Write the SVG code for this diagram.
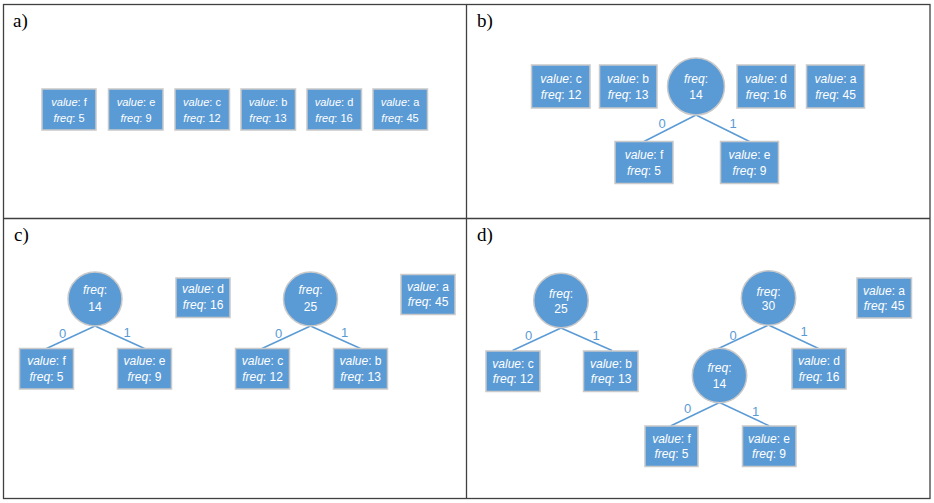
<svg xmlns="http://www.w3.org/2000/svg" width="934" height="503" viewBox="0 0 934 503">
<style>
.frame{fill:none;stroke:#404040;stroke-width:1.3}
.nd{fill:#5B9BD5;stroke:#c9c9c9;stroke-width:1.5}
.t{fill:#fff;font-family:"Liberation Sans",Arial,sans-serif;font-size:12px;text-anchor:middle}
.ta{font-size:11px}
.i{font-style:italic}
.pl{font-family:"Liberation Serif","Times New Roman",serif;font-size:19px;fill:#000}
.edge{stroke:#5B9BD5;stroke-width:1.5;fill:none}
.bit{fill:#5B9BD5;font-family:"Liberation Sans",Arial,sans-serif;font-size:13px;text-anchor:middle}
</style>
<rect x="0" y="0" width="934" height="503" fill="#fff"/>
<g id="frame">
<rect class="frame" x="3.5" y="4.5" width="926.5" height="494"/>
<line class="frame" x1="466.5" y1="4.5" x2="466.5" y2="498.5"/>
<line class="frame" x1="3.5" y1="218.5" x2="930" y2="218.5"/>
<text class="pl" x="13" y="27">a)</text>
<text class="pl" x="477" y="27">b)</text>
<text class="pl" x="14" y="241">c)</text>
<text class="pl" x="477" y="241">d)</text>
</g>
<g id="connectors">
<line class="edge" x1="696" y1="115" x2="644" y2="141.5"/>
<line class="edge" x1="696" y1="115" x2="749.5" y2="141.5"/>
<line class="edge" x1="95" y1="326" x2="46.5" y2="348.5"/>
<line class="edge" x1="95" y1="326" x2="144.5" y2="348.5"/>
<line class="edge" x1="310.5" y1="326" x2="262" y2="348.5"/>
<line class="edge" x1="310.5" y1="326" x2="360.5" y2="348.5"/>
<line class="edge" x1="561" y1="328" x2="512.5" y2="350.5"/>
<line class="edge" x1="561" y1="328" x2="612" y2="350.5"/>
<line class="edge" x1="768.5" y1="325" x2="718.5" y2="348.5"/>
<line class="edge" x1="768.5" y1="325" x2="818.5" y2="348.5"/>
<line class="edge" x1="719.5" y1="402.5" x2="670.5" y2="426"/>
<line class="edge" x1="719.5" y1="402.5" x2="769.5" y2="426"/>
<text class="bit" x="662" y="128">0</text>
<text class="bit" x="733" y="128">1</text>
<text class="bit" x="62.5" y="337.5">0</text>
<text class="bit" x="127" y="336.5">1</text>
<text class="bit" x="278.5" y="337.5">0</text>
<text class="bit" x="344.5" y="336.5">1</text>
<text class="bit" x="528.5" y="339.5">0</text>
<text class="bit" x="596" y="339.5">1</text>
<text class="bit" x="733" y="339.5">0</text>
<text class="bit" x="804" y="335.5">1</text>
<text class="bit" x="687.5" y="412.5">0</text>
<text class="bit" x="755.5" y="415.5">1</text>
</g>
<!-- panel a -->
<g id="a-f"><rect class="nd" x="42" y="89" width="54" height="41"/><text class="t ta" x="69" y="106"><tspan class="i">value</tspan>: f</text><text class="t ta" x="69" y="122"><tspan class="i">freq</tspan>: 5</text></g>
<g id="a-e"><rect class="nd" x="108.5" y="89" width="54.5" height="41"/><text class="t ta" x="136" y="106"><tspan class="i">value</tspan>: e</text><text class="t ta" x="136" y="122"><tspan class="i">freq</tspan>: 9</text></g>
<g id="a-c"><rect class="nd" x="175" y="89" width="54.5" height="41"/><text class="t ta" x="202" y="106"><tspan class="i">value</tspan>: c</text><text class="t ta" x="202" y="122"><tspan class="i">freq</tspan>: 12</text></g>
<g id="a-b"><rect class="nd" x="241" y="89" width="54.5" height="41"/><text class="t ta" x="268" y="106"><tspan class="i">value</tspan>: b</text><text class="t ta" x="268" y="122"><tspan class="i">freq</tspan>: 13</text></g>
<g id="a-d"><rect class="nd" x="307" y="89" width="54.5" height="41"/><text class="t ta" x="334" y="106"><tspan class="i">value</tspan>: d</text><text class="t ta" x="334" y="122"><tspan class="i">freq</tspan>: 16</text></g>
<g id="a-a"><rect class="nd" x="373" y="89" width="54.5" height="41"/><text class="t ta" x="400" y="106"><tspan class="i">value</tspan>: a</text><text class="t ta" x="400" y="122"><tspan class="i">freq</tspan>: 45</text></g>
<!-- panel b -->
<g id="b-c"><rect class="nd" x="531.5" y="65" width="58.5" height="43"/><text class="t" x="561" y="83"><tspan class="i">value</tspan>: c</text><text class="t" x="561" y="99"><tspan class="i">freq</tspan>: 12</text></g>
<g id="b-b"><rect class="nd" x="599.5" y="65" width="57.5" height="43"/><text class="t" x="628" y="83"><tspan class="i">value</tspan>: b</text><text class="t" x="628" y="99"><tspan class="i">freq</tspan>: 13</text></g>
<g id="b-n14"><circle class="nd" cx="696" cy="86.5" r="28.5"/><text class="t" x="696" y="83"><tspan class="i">freq</tspan>:</text><text class="t" x="696" y="99">14</text></g>
<g id="b-d"><rect class="nd" x="737" y="65" width="58" height="43"/><text class="t" x="766" y="83"><tspan class="i">value</tspan>: d</text><text class="t" x="766" y="99"><tspan class="i">freq</tspan>: 16</text></g>
<g id="b-a"><rect class="nd" x="806.5" y="65" width="58" height="43"/><text class="t" x="835.5" y="83"><tspan class="i">value</tspan>: a</text><text class="t" x="835.5" y="99"><tspan class="i">freq</tspan>: 45</text></g>
<g id="b-f"><rect class="nd" x="615" y="141.5" width="58" height="42"/><text class="t" x="644" y="159"><tspan class="i">value</tspan>: f</text><text class="t" x="644" y="175"><tspan class="i">freq</tspan>: 5</text></g>
<g id="b-e"><rect class="nd" x="720.5" y="141.5" width="58" height="42"/><text class="t" x="749.5" y="159"><tspan class="i">value</tspan>: e</text><text class="t" x="749.5" y="175"><tspan class="i">freq</tspan>: 9</text></g>
<!-- panel c -->
<g id="c-n14"><circle class="nd" cx="95" cy="299" r="27"/><text class="t" x="95" y="294"><tspan class="i">freq</tspan>:</text><text class="t" x="95" y="310.5">14</text></g>
<g id="c-d"><rect class="nd" x="176" y="278" width="54" height="39.5"/><text class="t" x="203" y="293"><tspan class="i">value</tspan>: d</text><text class="t" x="203" y="309"><tspan class="i">freq</tspan>: 16</text></g>
<g id="c-n25"><circle class="nd" cx="310.5" cy="299" r="27"/><text class="t" x="310.5" y="294"><tspan class="i">freq</tspan>:</text><text class="t" x="310.5" y="310.5">25</text></g>
<g id="c-a"><rect class="nd" x="401" y="274.5" width="54" height="40"/><text class="t" x="428" y="291"><tspan class="i">value</tspan>: a</text><text class="t" x="428" y="306"><tspan class="i">freq</tspan>: 45</text></g>
<g id="c-f"><rect class="nd" x="19.5" y="348.5" width="54" height="40.5"/><text class="t" x="46.5" y="365"><tspan class="i">value</tspan>: f</text><text class="t" x="46.5" y="380.5"><tspan class="i">freq</tspan>: 5</text></g>
<g id="c-e"><rect class="nd" x="117.5" y="348.5" width="54" height="40.5"/><text class="t" x="144.5" y="365"><tspan class="i">value</tspan>: e</text><text class="t" x="144.5" y="380.5"><tspan class="i">freq</tspan>: 9</text></g>
<g id="c-c"><rect class="nd" x="235.5" y="348.5" width="54" height="40.5"/><text class="t" x="262.5" y="365"><tspan class="i">value</tspan>: c</text><text class="t" x="262.5" y="380.5"><tspan class="i">freq</tspan>: 12</text></g>
<g id="c-b"><rect class="nd" x="333.5" y="348.5" width="54" height="40.5"/><text class="t" x="360.5" y="365"><tspan class="i">value</tspan>: b</text><text class="t" x="360.5" y="380.5"><tspan class="i">freq</tspan>: 13</text></g>
<!-- panel d -->
<g id="d-n25"><circle class="nd" cx="561" cy="300.5" r="27.3"/><text class="t" x="561" y="298"><tspan class="i">freq</tspan>:</text><text class="t" x="561" y="313">25</text></g>
<g id="d-c"><rect class="nd" x="486" y="351" width="54" height="40.5"/><text class="t" x="513" y="368"><tspan class="i">value</tspan>: c</text><text class="t" x="513" y="383"><tspan class="i">freq</tspan>: 12</text></g>
<g id="d-b"><rect class="nd" x="583.5" y="351" width="54.5" height="40.5"/><text class="t" x="611" y="368"><tspan class="i">value</tspan>: b</text><text class="t" x="611" y="383"><tspan class="i">freq</tspan>: 13</text></g>
<g id="d-n30"><circle class="nd" cx="768.5" cy="298" r="27.2"/><text class="t" x="768.5" y="295.5"><tspan class="i">freq</tspan>:</text><text class="t" x="768.5" y="310">30</text></g>
<g id="d-a"><rect class="nd" x="857" y="278" width="54.5" height="40"/><text class="t" x="884" y="295"><tspan class="i">value</tspan>: a</text><text class="t" x="884" y="310"><tspan class="i">freq</tspan>: 45</text></g>
<g id="d-n14"><circle class="nd" cx="719.5" cy="375.5" r="27.2"/><text class="t" x="719.5" y="372"><tspan class="i">freq</tspan>:</text><text class="t" x="719.5" y="387.5">14</text></g>
<g id="d-d"><rect class="nd" x="792" y="348.5" width="54" height="40.5"/><text class="t" x="819" y="365"><tspan class="i">value</tspan>: d</text><text class="t" x="819" y="380.5"><tspan class="i">freq</tspan>: 16</text></g>
<g id="d-f"><rect class="nd" x="645" y="426" width="53" height="40.5"/><text class="t" x="671.5" y="442.5"><tspan class="i">value</tspan>: f</text><text class="t" x="671.5" y="457.5"><tspan class="i">freq</tspan>: 5</text></g>
<g id="d-e"><rect class="nd" x="742.5" y="426" width="53.5" height="40.5"/><text class="t" x="769" y="442.5"><tspan class="i">value</tspan>: e</text><text class="t" x="769" y="457.5"><tspan class="i">freq</tspan>: 9</text></g>
</svg>
